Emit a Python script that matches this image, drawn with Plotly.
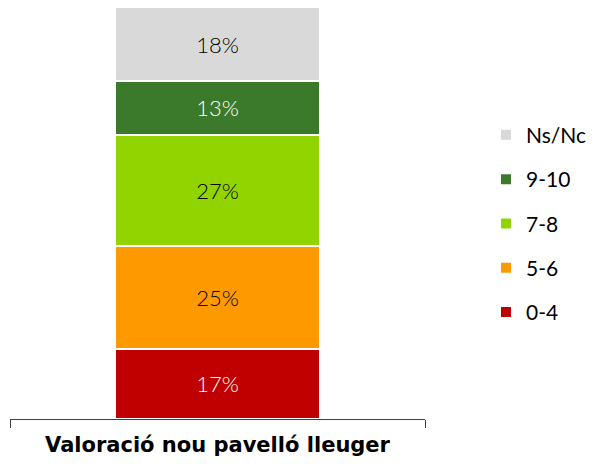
import plotly.graph_objects as go

categories = ["<b>Valoració nou pavelló lleuger</b>"]
series_names = ["0-4", "5-6", "7-8", "9-10", "Ns/Nc"]
series_values = [[17], [25], [27], [13], [18]]
series_colors = ["#C00000", "#FF9900", "#92D400", "#3B7A2B", "#D9D9D9"]
text_colors = ["#FFFFFF", "#000000", "#000000", "#FFFFFF", "#000000"]

fig = go.Figure()
n = len(series_names)
for i, (name, vals) in enumerate(zip(series_names, series_values)):
    fig.add_trace(go.Bar(
        x=categories, y=vals, name=name,
        marker=dict(color=series_colors[i], line=dict(color="#FFFFFF", width=2)),
        texttemplate="%{y}%", textposition="inside", insidetextanchor="middle",
        textangle=0,
        textfont=dict(family="Lato", size=22, weight=300, color=text_colors[i]),
        legendgroup=name, legendrank=n - i,
        hoverinfo="skip",
    ))

fig.update_layout(
    barmode="stack",
    bargap=0.506,
    width=600, height=464,
    margin=dict(l=10, r=175, t=7, b=45),
    paper_bgcolor="white", plot_bgcolor="white",
    showlegend=True,
    legend=dict(
        traceorder="grouped", tracegroupgap=14,
        x=1.147, xanchor="left", y=0.474, yanchor="middle",
        font=dict(family="Lato", size=21, color="#000000"),
        itemwidth=30, bgcolor="rgba(0,0,0,0)",
    ),
    xaxis=dict(
        showline=True, linecolor="#404040", linewidth=1,
        ticks="outside", tickson="boundaries", ticklen=8, tickcolor="#404040",
        ticklabelstandoff=7,
        tickfont=dict(family="DejaVu Sans", size=21, color="#000000"),
        showgrid=False, fixedrange=True,
    ),
    yaxis=dict(range=[0, 100], visible=False, showgrid=False, fixedrange=True),
)

fig.write_html("out.html", config={"displayModeBar": False},
               post_script="document.body.style.margin='0';")
